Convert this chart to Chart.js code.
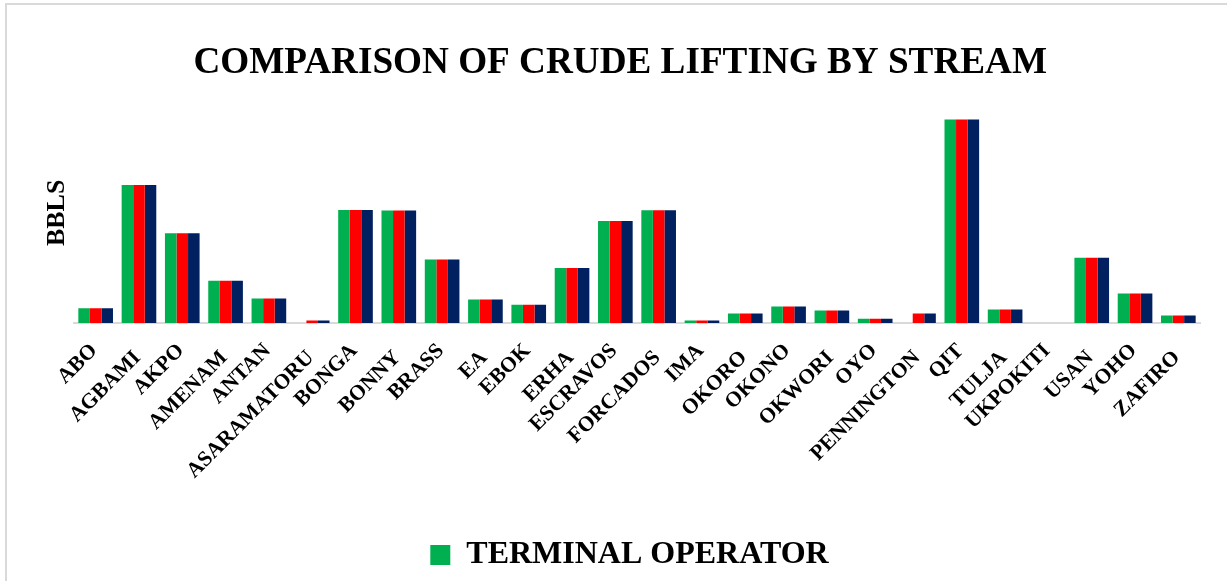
<!DOCTYPE html>
<html>
<head>
<meta charset="utf-8">
<title>Comparison of crude lifting by stream</title>
<script src="https://cdn.jsdelivr.net/npm/chart.js@4.4.1/dist/chart.umd.min.js"></script>
<style>
  html, body { margin: 0; padding: 0; background: #fff; }
  #wrap { position: relative; width: 1227px; height: 581px; overflow: hidden; }
  #frame { position: absolute; left: 5px; top: 3px; width: 1400px; height: 800px;
           border-left: 2px solid #d9d9d9; border-top: 2px solid #d9d9d9; box-sizing: border-box; }
  canvas { position: absolute; left: 0; top: 0; }
</style>
</head>
<body>
<div id="wrap">
  <div id="frame"></div>
  <canvas id="chart" width="1227" height="581"></canvas>
</div>
<script>
// lifting per stream (y axis has no ticks)
const streams = ['ABO', 'AGBAMI', 'AKPO', 'AMENAM', 'ANTAN', 'ASARAMATORU', 'BONGA', 'BONNY',
  'BRASS', 'EA', 'EBOK', 'ERHA', 'ESCRAVOS', 'FORCADOS', 'IMA', 'OKORO', 'OKONO', 'OKWORI',
  'OYO', 'PENNINGTON', 'QIT', 'TULJA', 'UKPOKITI', 'USAN', 'YOHO', 'ZAFIRO'];

const terminalOperator = [1.48, 13.78, 8.95, 4.22, 2.45, 0, 11.28, 11.22, 6.35, 2.35, 1.82, 5.48,
  10.18, 11.25, 0.25, 0.95, 1.65, 1.25, 0.42, 0, 20.32, 1.35, 0, 6.52, 2.95, 0.75];
const secondSeries = [1.48, 13.78, 8.95, 4.22, 2.45, 0.25, 11.28, 11.22, 6.35, 2.35, 1.82, 5.48,
  10.18, 11.25, 0.25, 0.95, 1.65, 1.25, 0.42, 0.95, 20.32, 1.35, 0, 6.52, 2.95, 0.75];
const thirdSeries = [1.48, 13.78, 8.95, 4.22, 2.45, 0.25, 11.28, 11.22, 6.35, 2.35, 1.82, 5.48,
  10.18, 11.25, 0.25, 0.95, 1.65, 1.25, 0.42, 0.95, 20.32, 1.35, 0, 6.52, 2.95, 0.75];

const SERIF = "'Liberation Serif', 'Times New Roman', serif";

// x labels are drawn here so they can sit at 45deg, staggered like the original
const slantLabels = {
  id: 'slantLabels',
  afterDraw(chart) {
    const ctx = chart.ctx;
    const xs = chart.scales.x;
    const base = chart.chartArea.bottom;
    ctx.save();
    ctx.font = 'bold 21.5px ' + SERIF;
    ctx.fillStyle = '#000';
    ctx.textAlign = 'right';
    ctx.textBaseline = 'top';
    streams.forEach((name, i) => {
      const x = xs.getPixelForValue(i);
      const y = base + 17 + (i % 2 ? 7 : 0);
      ctx.save();
      ctx.translate(x - 9, y);
      ctx.rotate(-Math.PI / 4);
      ctx.fillText(name, 0, 0);
      ctx.restore();
    });
    ctx.restore();
  }
};

const ctx = document.getElementById('chart').getContext('2d');
new Chart(ctx, {
  type: 'bar',
  data: {
    labels: streams,
    datasets: [
      { label: 'TERMINAL OPERATOR', data: terminalOperator, backgroundColor: '#00b050' },
      { label: 'SERIES 2', data: secondSeries, backgroundColor: '#ff0000' },
      { label: 'SERIES 3', data: thirdSeries, backgroundColor: '#002060' }
    ]
  },
  options: {
    responsive: false,
    animation: false,
    layout: { padding: { left: 32, right: 0, top: 0, bottom: 0 } },
    datasets: {
      bar: { categoryPercentage: 0.8, barPercentage: 1.0, borderWidth: 0 }
    },
    scales: {
      x: {
        z: 1,
        grid: { display: false },
        border: { color: '#d9d9d9', width: 2 },
        ticks: { display: false },
        afterFit(scale) { scale.height = 202; }
      },
      y: {
        min: 0,
        max: 22,
        grid: { display: false },
        border: { display: false },
        ticks: { display: false },
        title: {
          display: true,
          text: 'BBLS',
          color: '#000',
          font: { family: SERIF, size: 26, weight: 'bold' },
          padding: { top: 10, bottom: 4 }
        },
        afterFit(scale) { scale.width = 42; }
      },
      // empty right margin axis, keeps the plot clear of the right edge
      yRight: {
        position: 'right',
        min: 0,
        max: 22,
        grid: { display: false },
        border: { display: false },
        ticks: { display: false },
        afterFit(scale) { scale.width = 27; }
      }
    },
    plugins: {
      title: {
        display: true,
        text: 'COMPARISON OF CRUDE LIFTING BY STREAM  ',
        color: '#000',
        font: { family: SERIF, size: 37.2, weight: 'bold' },
        padding: { top: 41, bottom: 17 }
      },
      legend: {
        position: 'bottom',
        labels: {
          color: '#000',
          font: { family: SERIF, size: 32, weight: 'bold' },
          boxWidth: 20,
          boxHeight: 20,
          padding: 14,
          filter: (item) => item.datasetIndex === 0
        }
      },
      tooltip: { enabled: false }
    }
  },
  plugins: [slantLabels]
});
</script>
</body>
</html>
